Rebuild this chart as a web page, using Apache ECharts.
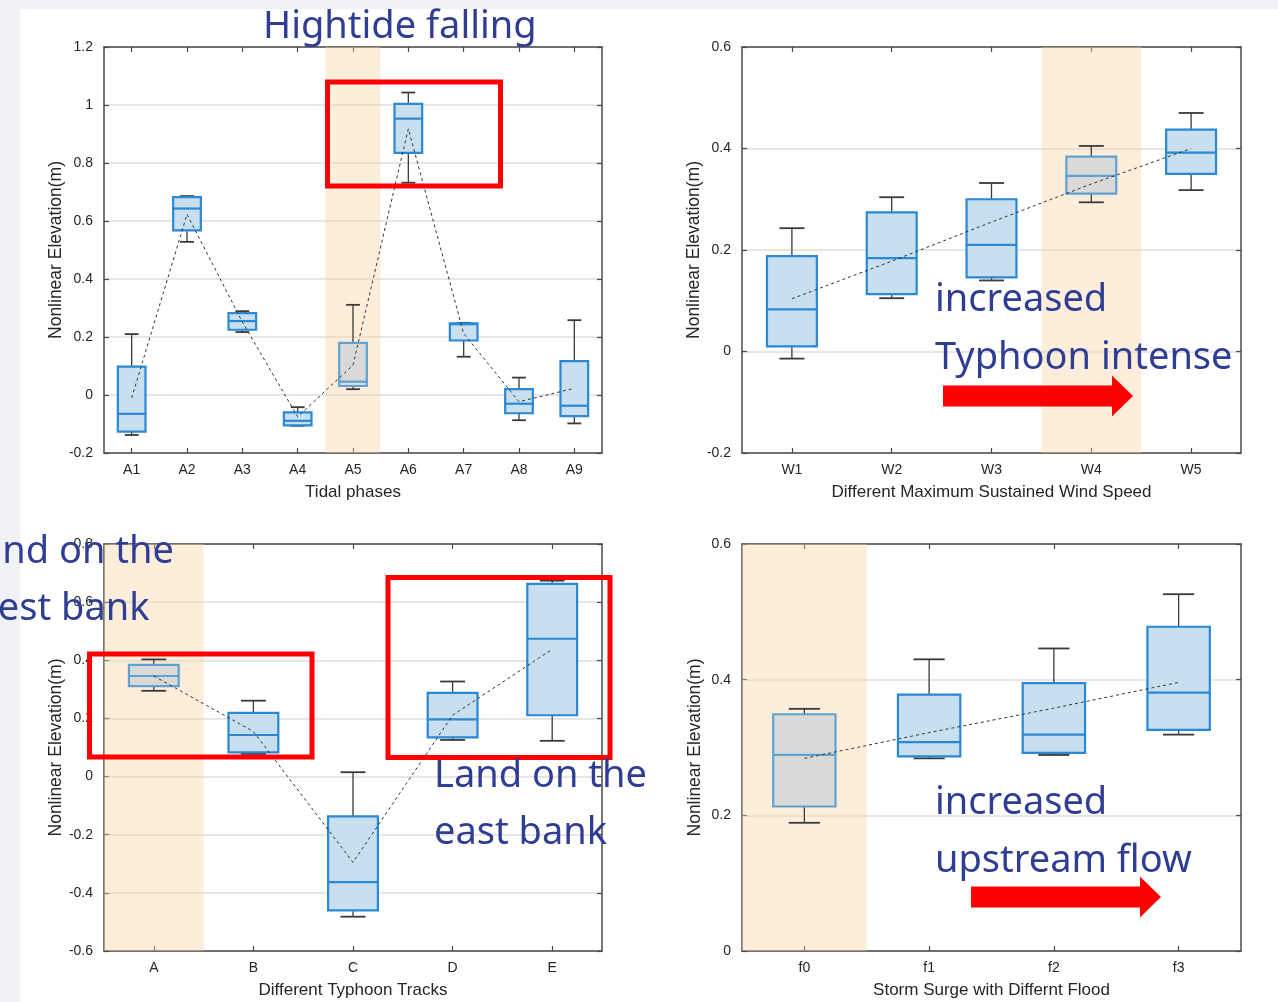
<!DOCTYPE html>
<html>
<head>
<meta charset="utf-8">
<script src="https://cdn.jsdelivr.net/npm/echarts@6/dist/echarts.min.js"></script>
<style>
html,body{margin:0;padding:0;background:#f0f2f5;}
#paper{position:absolute;left:20px;top:9px;right:0;bottom:0;background:#ffffff;}
#chart{position:absolute;left:0;top:0;width:1278px;height:1002px;}
</style>
</head>
<body>
<div id="paper"></div>
<div id="chart"></div>
<script>
// ---------- data ----------
const tidalCats = ['A1','A2','A3','A4','A5','A6','A7','A8','A9'];
const tidalMin  = [-0.138, 0.528, 0.217, -0.106, 0.020, 0.732, 0.132, -0.087, -0.098];
const tidalQ1   = [-0.126, 0.568, 0.225, -0.105, 0.031, 0.835, 0.188, -0.063, -0.073];
const tidalMed  = [-0.065, 0.643, 0.255, -0.089, 0.046, 0.953, 0.244, -0.030, -0.037];
const tidalQ3   = [ 0.098, 0.682, 0.282, -0.060, 0.180, 1.004, 0.247,  0.020,  0.117];
const tidalMax  = [ 0.210, 0.686, 0.289, -0.042, 0.311, 1.043, 0.249,  0.060,  0.258];
const tidalMean = [-0.010, 0.623, 0.252, -0.075, 0.103, 0.918, 0.212, -0.023,  0.023];

const windCats = ['W1','W2','W3','W4','W5'];
const windMin  = [-0.014, 0.105, 0.140, 0.294, 0.318];
const windQ1   = [ 0.010, 0.113, 0.146, 0.311, 0.350];
const windMed  = [ 0.083, 0.184, 0.210, 0.346, 0.392];
const windQ3   = [ 0.188, 0.274, 0.300, 0.384, 0.437];
const windMax  = [ 0.243, 0.304, 0.332, 0.405, 0.470];
const windMean = [ 0.104, 0.178, 0.255, 0.330, 0.400];

const trackCats = ['A','B','C','D','E'];
const trackMin  = [0.295, 0.078, -0.482, 0.126, 0.123];
const trackQ1   = [0.311, 0.083, -0.460, 0.135, 0.211];
const trackMed  = [0.346, 0.143, -0.363, 0.197, 0.474];
const trackQ3   = [0.384, 0.219, -0.137, 0.288, 0.663];
const trackMax  = [0.403, 0.261,  0.015, 0.327, 0.674];
const trackMean = [0.346, 0.155, -0.295, 0.211, 0.438];

const floodCats = ['f0','f1','f2','f3'];
const floodMin  = [0.189, 0.284, 0.289, 0.319];
const floodQ1   = [0.213, 0.287, 0.292, 0.326];
const floodMed  = [0.289, 0.308, 0.319, 0.381];
const floodQ3   = [0.349, 0.378, 0.395, 0.478];
const floodMax  = [0.357, 0.430, 0.446, 0.526];
const floodMean = [0.284, 0.322, 0.358, 0.396];

const panelXNames = ['Tidal phases','Different Maximum Sustained Wind Speed','Different Typhoon Tracks','Storm Surge with Differnt Flood'];
const yName = 'Nonlinear Elevation(m)';
const highlightIdx = [4, 3, 0, 0];
const yRanges = [[-0.2, 1.2], [-0.2, 0.6], [-0.6, 0.8], [0, 0.6]];
const yStep = 0.2;

// ---------- chart ----------
const panels = [
  {cats: tidalCats, min: tidalMin, q1: tidalQ1, med: tidalMed, q3: tidalQ3, max: tidalMax, mean: tidalMean},
  {cats: windCats,  min: windMin,  q1: windQ1,  med: windMed,  q3: windQ3,  max: windMax,  mean: windMean},
  {cats: trackCats, min: trackMin, q1: trackQ1, med: trackMed, q3: trackQ3, max: trackMax, mean: trackMean},
  {cats: floodCats, min: floodMin, q1: floodQ1, med: floodMed, q3: floodQ3, max: floodMax, mean: floodMean}
];
const grids = [
  {left: 104, top: 47,  width: 498, height: 406},
  {left: 742, top: 47,  width: 499, height: 406},
  {left: 104, top: 544, width: 498, height: 407},
  {left: 742, top: 544, width: 499, height: 407}
];
const FONT = "'Liberation Sans', Arial, Helvetica, sans-serif";
const TXT = '#262626';
const AX = '#4a4a4a';

const xAxes = [], yAxes = [], series = [];

function boxRender(params, api) {
  const i = api.value(0);
  const pMin = api.coord([i, api.value(1)]);
  const pQ1 = api.coord([i, api.value(2)]);
  const pMed = api.coord([i, api.value(3)]);
  const pQ3 = api.coord([i, api.value(4)]);
  const pMax = api.coord([i, api.value(5)]);
  const bw = api.size([1, 0])[0];
  const hb = bw * 0.25, hc = bw * 0.125;
  const gray = api.value(6) === 1;
  const fill = gray ? '#d9dad7' : '#c8dff0';
  const stroke = gray ? '#5fa2d2' : '#2a88d4';
  const x = pMed[0];
  const wStyle = {stroke: '#3a3a3a', lineWidth: 1.3};
  return {type: 'group', children: [
    {type: 'line', shape: {x1: x, y1: pMax[1], x2: x, y2: pQ3[1]}, style: wStyle},
    {type: 'line', shape: {x1: x, y1: pQ1[1], x2: x, y2: pMin[1]}, style: wStyle},
    {type: 'line', shape: {x1: x - hc, y1: pMax[1], x2: x + hc, y2: pMax[1]}, style: {stroke: '#3a3a3a', lineWidth: 1.8}},
    {type: 'line', shape: {x1: x - hc, y1: pMin[1], x2: x + hc, y2: pMin[1]}, style: {stroke: '#3a3a3a', lineWidth: 1.8}},
    {type: 'rect', shape: {x: x - hb, y: pQ3[1], width: 2 * hb, height: pQ1[1] - pQ3[1]}, style: {fill: fill, stroke: stroke, lineWidth: 2.2}},
    {type: 'line', shape: {x1: x - hb, y1: pMed[1], x2: x + hb, y2: pMed[1]}, style: {stroke: stroke, lineWidth: 2.2}}
  ]};
}

function shadeRender(params, api) {
  const i = api.value(0);
  const top = api.coord([i, api.value(2)]);
  const bot = api.coord([i, api.value(1)]);
  const bw = api.size([1, 0])[0];
  return {type: 'rect', shape: {x: top[0] - bw / 2, y: top[1], width: bw, height: bot[1] - top[1]},
    style: {fill: 'rgba(250,212,168,0.40)'}};
}

panels.forEach((p, g) => {
  const xi = xAxes.length, yi = yAxes.length;
  xAxes.push({
    gridIndex: g, type: 'category', data: p.cats, boundaryGap: true, position: 'bottom',
    name: panelXNames[g], nameLocation: 'middle', nameGap: 31,
    nameTextStyle: {fontFamily: FONT, fontSize: 17, color: TXT},
    axisLine: {show: true, onZero: false, lineStyle: {color: AX, width: 1.5}},
    axisTick: {show: true, inside: true, alignWithLabel: true, length: 5, lineStyle: {color: AX, width: 1.2}},
    axisLabel: {fontFamily: FONT, fontSize: 14, color: TXT, margin: 10},
    splitLine: {show: false}
  });
  xAxes.push({
    gridIndex: g, type: 'category', data: p.cats, boundaryGap: true, position: 'top',
    axisLine: {show: true, onZero: false, lineStyle: {color: AX, width: 1.5}},
    axisTick: {show: true, inside: true, alignWithLabel: true, length: 5, lineStyle: {color: AX, width: 1.2}},
    axisLabel: {show: false}, splitLine: {show: false}
  });
  yAxes.push({
    gridIndex: g, type: 'value', min: yRanges[g][0], max: yRanges[g][1], interval: yStep, position: 'left',
    name: yName, nameLocation: 'middle', nameGap: 38,
    nameTextStyle: {fontFamily: FONT, fontSize: 17.5, color: TXT},
    axisLine: {show: true, onZero: false, lineStyle: {color: AX, width: 1.5}},
    axisTick: {show: true, inside: true, length: 5, lineStyle: {color: AX, width: 1.2}},
    axisLabel: {fontFamily: FONT, fontSize: 14, color: TXT, margin: 11},
    splitLine: {show: true, lineStyle: {color: '#dedede', width: 1.5}}
  });
  yAxes.push({
    gridIndex: g, type: 'value', min: yRanges[g][0], max: yRanges[g][1], interval: yStep, position: 'right',
    axisLine: {show: true, onZero: false, lineStyle: {color: AX, width: 1.5}},
    axisTick: {show: true, inside: true, length: 5, lineStyle: {color: AX, width: 1.2}},
    axisLabel: {show: false}, splitLine: {show: false}
  });
  series.push({
    type: 'custom', xAxisIndex: xi, yAxisIndex: yi, z: 1, silent: true,
    renderItem: shadeRender,
    data: [[highlightIdx[g], yRanges[g][0], yRanges[g][1]]],
    encode: {x: 0, y: [1, 2]}
  });
  series.push({
    type: 'custom', xAxisIndex: xi, yAxisIndex: yi, z: 3,
    renderItem: boxRender,
    data: p.cats.map((c, i) => [i, p.min[i], p.q1[i], p.med[i], p.q3[i], p.max[i], i === highlightIdx[g] ? 1 : 0]),
    encode: {x: 0, y: [1, 2, 3, 4, 5]}
  });
  series.push({
    type: 'line', xAxisIndex: xi, yAxisIndex: yi, z: 4, symbol: 'none', silent: true,
    data: p.mean,
    lineStyle: {color: '#333333', width: 1, type: [3, 3]}
  });
});

const BLUE = '#2f3d94';
const TFONT = "'Noto Sans', 'Open Sans', sans-serif";
function label(text, x, baseline) {
  return {type: 'text', x: x, y: baseline - 10.8, z: 100,
    style: {text: text, fill: BLUE, font: '38px ' + TFONT, textAlign: 'left', textVerticalAlign: 'middle'}};
}
function redRect(x1, y1, x2, y2) {
  return {type: 'rect', z: 90, shape: {x: x1, y: y1, width: x2 - x1, height: y2 - y1},
    style: {fill: 'none', stroke: '#ff0000', lineWidth: 5}};
}
function arrow(x0, xHead, xTip, yc) {
  return {type: 'polygon', z: 90, shape: {points: [
    [x0, yc - 10.5], [xHead, yc - 10.5], [xHead, yc - 20.5], [xTip, yc], [xHead, yc + 20.5], [xHead, yc + 10.5], [x0, yc + 10.5]
  ]}, style: {fill: '#ff0000'}};
}

const chart = echarts.init(document.getElementById('chart'), null, {renderer: 'canvas'});
chart.setOption({
  animation: false,
  backgroundColor: 'transparent',
  grid: grids.map(g => Object.assign({containLabel: false}, g)),
  xAxis: xAxes,
  yAxis: yAxes,
  series: series,
  graphic: [
    redRect(327.5, 82, 500.5, 186),
    redRect(89.5, 654, 312, 757),
    redRect(388, 577.5, 610, 757.5),
    arrow(943, 1112, 1133, 396),
    arrow(971, 1140, 1161, 897),
    label('Hightide falling', 263, 38),
    label('increased', 935, 311),
    label('Typhoon intense', 935, 369),
    label('Land on the', -39, 563),
    label('west bank', -32, 620),
    label('Land on the', 434, 787),
    label('east bank', 434, 844),
    label('increased', 935, 814),
    label('upstream flow', 935, 872)
  ]
});
</script>
</body>
</html>
